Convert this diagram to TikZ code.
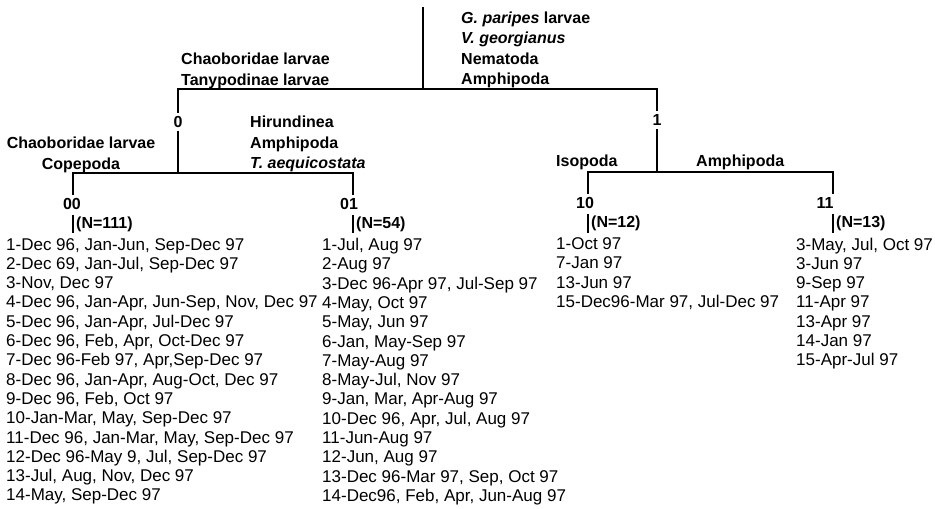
\documentclass[tikz,border=0pt]{standalone}
\usepackage{fontspec}
\setmainfont{Liberation Sans}
\usepackage{xcolor}
\usetikzlibrary{positioning}

\tikzset{
  branch/.style={line width=2.4pt},
  taxa/.style={font=\fontsize{16}{20.4}\selectfont\bfseries, align=left, inner sep=0pt, anchor=north west},
  code/.style={font=\fontsize{16}{18}\selectfont\bfseries, inner xsep=0pt, inner ysep=3pt, text height=11.5pt, text depth=0pt},
  count/.style={font=\fontsize{16}{18}\selectfont\bfseries, inner sep=0pt},
  months/.style={font=\fontsize{17}{19.3}\selectfont, align=left, inner sep=0pt, anchor=north west}
}

\begin{document}
\begin{tikzpicture}[x=1pt,y=-1pt]
\useasboundingbox (0,0) rectangle (935,509);

% split points of the tree
\coordinate (root) at (423,7);
\coordinate (j) at (423,89);
\coordinate (j0) at (178,173);
\coordinate (j1) at (657,172);
\coordinate (b00) at (73,173);
\coordinate (b01) at (353,173);
\coordinate (b10) at (588,172);
\coordinate (b11) at (833,172);

% group codes
\node[code] (n0) at (178,122) {0};
\node[code] (n1) at (657,120) {1};
\node[code] (n00) at (72,204) {00};
\node[code] (n01) at (349,204) {01};
\node[code] (n10) at (585,203) {10};
\node[code] (n11) at (825,203) {11};

% taxa at each split
\node[taxa] (t0) at (181,53) {Chaoboridae larvae\\Tanypodinae larvae};
\node[taxa] (t1) at (461,11.5) {\textit{G. paripes} larvae\\\textit{V. georgianus}\\Nematoda\\Amphipoda};
\node[taxa, align=center, anchor=north] (t00) at (81,137) {Chaoboridae larvae\\Copepoda};
\node[taxa] (t01) at (250,116) {Hirundinea\\Amphipoda\\\textit{T. aequicostata}};
\node[taxa] (t10) at (556,155) {Isopoda};
\node[taxa] (t11) at (696,155) {Amphipoda};

% month lists
\node[months] (l00) at (6,238) {1-Dec 96, Jan-Jun, Sep-Dec 97\\
2-Dec 69, Jan-Jul, Sep-Dec 97\\
3-Nov, Dec 97\\
4-Dec 96, Jan-Apr, Jun-Sep, Nov, Dec 97\\
5-Dec 96, Jan-Apr, Jul-Dec 97\\
6-Dec 96, Feb, Apr, Oct-Dec 97\\
7-Dec 96-Feb 97, Apr,Sep-Dec 97\\
8-Dec 96, Jan-Apr, Aug-Oct, Dec 97\\
9-Dec 96, Feb, Oct 97\\
10-Jan-Mar, May, Sep-Dec 97\\
11-Dec 96, Jan-Mar, May, Sep-Dec 97\\
12-Dec 96-May 9, Jul, Sep-Dec 97\\
13-Jul, Aug, Nov, Dec 97\\
14-May, Sep-Dec 97};
\node[months] (l01) at (322,238) {1-Jul, Aug 97\\
2-Aug 97\\
3-Dec 96-Apr 97, Jul-Sep 97\\
4-May, Oct 97\\
5-May, Jun 97\\
6-Jan, May-Sep 97\\
7-May-Aug 97\\
8-May-Jul, Nov 97\\
9-Jan, Mar, Apr-Aug 97\\
10-Dec 96, Apr, Jul, Aug 97\\
11-Jun-Aug 97\\
12-Jun, Aug 97\\
13-Dec 96-Mar 97, Sep, Oct 97\\
14-Dec96, Feb, Apr, Jun-Aug 97};
\node[months] (l10) at (556,237.5) {1-Oct 97\\
7-Jan 97\\
13-Jun 97\\
15-Dec96-Mar 97, Jul-Dec 97};
\node[months] (l11) at (796,237.5) {3-May, Jul, Oct 97\\
3-Jun 97\\
9-Sep 97\\
11-Apr 97\\
13-Apr 97\\
14-Jan 97\\
15-Apr-Jul 97};

% tree
\draw[branch] (root) -- (j);
\draw[branch] (n0.north) |- (j) -| (n1.north);
\draw[branch] (n0.south) -- (j0);
\draw[branch] (n1.south) -- (j1);
\draw[branch] (b00 |- n00.north) -- (b00) -- (b01) -- (b01 |- n01.north);
\draw[branch] (b10 |- n10.north) -- (b10) -- (b11) -- (b11 |- n11.north);

% bars and group sizes
\foreach \g in {00,01,10,11}
  \draw[branch, shorten <=2pt, shorten >=5pt] (b\g |- n\g.south) -- (b\g |- l\g.north);
\coordinate (m00) at (73,224.5);
\coordinate (m01) at (353,224.5);
\coordinate (m10) at (588,223.5);
\coordinate (m11) at (833,223.5);
\node[count, right=3pt of m00] (k00) {(N=111)};
\node[count, right=3pt of m01] (k01) {(N=54)};
\node[count, right=3pt of m10] (k10) {(N=12)};
\node[count, right=3pt of m11] (k11) {(N=13)};
\end{tikzpicture}
\end{document}
